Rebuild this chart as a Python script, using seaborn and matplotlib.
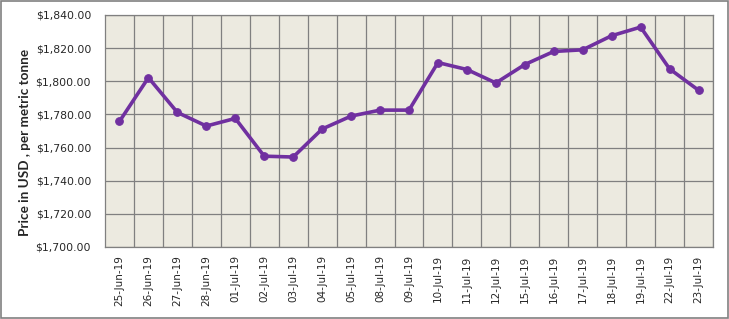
import matplotlib
matplotlib.use("Agg")
import matplotlib.pyplot as plt
import seaborn as sns
import pandas as pd
import numpy as np
from matplotlib.ticker import FuncFormatter, MultipleLocator, FixedLocator
from matplotlib.patches import Rectangle

dates = ["25-Jun-19", "26-Jun-19", "27-Jun-19", "28-Jun-19", "01-Jul-19", "02-Jul-19",
         "03-Jul-19", "04-Jul-19", "05-Jul-19", "08-Jul-19", "09-Jul-19", "10-Jul-19",
         "11-Jul-19", "12-Jul-19", "15-Jul-19", "16-Jul-19", "17-Jul-19", "18-Jul-19",
         "19-Jul-19", "22-Jul-19", "23-Jul-19"]
prices = [1775.8, 1802.2, 1781.2, 1773.0, 1777.6, 1754.8, 1754.3, 1771.2, 1779.0,
          1782.6, 1782.6, 1811.3, 1807.1, 1799.0, 1810.1, 1818.0, 1819.0, 1827.5,
          1832.7, 1807.5, 1794.6]

df = pd.DataFrame({"date": dates, "price": prices, "idx": np.arange(len(dates))})

sns.set_style("white")
plt.rcParams["font.family"] = ["DejaVu Sans"]

fig = plt.figure(figsize=(7.29, 3.19), dpi=100)
ax = fig.add_axes([105/729, 1-247/319, (713-105)/729, (247-15)/319])
ax.set_facecolor("#ECEAE0")

sns.lineplot(data=df, x="idx", y="price", ax=ax, color="#7030A0", linewidth=2.6,
             marker="o", markersize=5.5, markeredgecolor="#7030A0", zorder=3)

ax.set_xlim(-0.5, len(dates) - 0.5)
ax.set_ylim(1700, 1840)
ax.yaxis.set_major_locator(MultipleLocator(20))
ax.yaxis.set_major_formatter(FuncFormatter(lambda v, p: f"${v:,.2f}"))
ax.set_xticks(np.arange(len(dates)))
ax.set_xticklabels(dates, rotation=90, fontsize=7.5)
ax.xaxis.set_minor_locator(FixedLocator(np.arange(len(dates)) + 0.5))
ax.tick_params(axis="y", labelsize=7.8, length=0, pad=10)
ax.tick_params(axis="x", which="both", length=0, pad=6)

ax.grid(True, axis="y", which="major", color="#808080", linewidth=0.9)
ax.grid(True, axis="x", which="minor", color="#808080", linewidth=0.9)
ax.grid(False, axis="x", which="major")
ax.set_axisbelow(True)

for s in ax.spines.values():
    s.set_color("#808080")
    s.set_linewidth(0.9)

ax.set_xlabel("")
ax.set_ylabel("Price in USD , per metric tonne", fontsize=9.7, fontweight="bold",
              family=["Lato", "DejaVu Sans"])
ax.yaxis.set_label_coords(-0.122, 0.45)

fig.patches.append(Rectangle((0.002, 0.004), 0.996, 0.992, transform=fig.transFigure,
                             fill=False, edgecolor="#808080", linewidth=1.2))

fig.savefig("out.png", dpi=100, facecolor="white")
